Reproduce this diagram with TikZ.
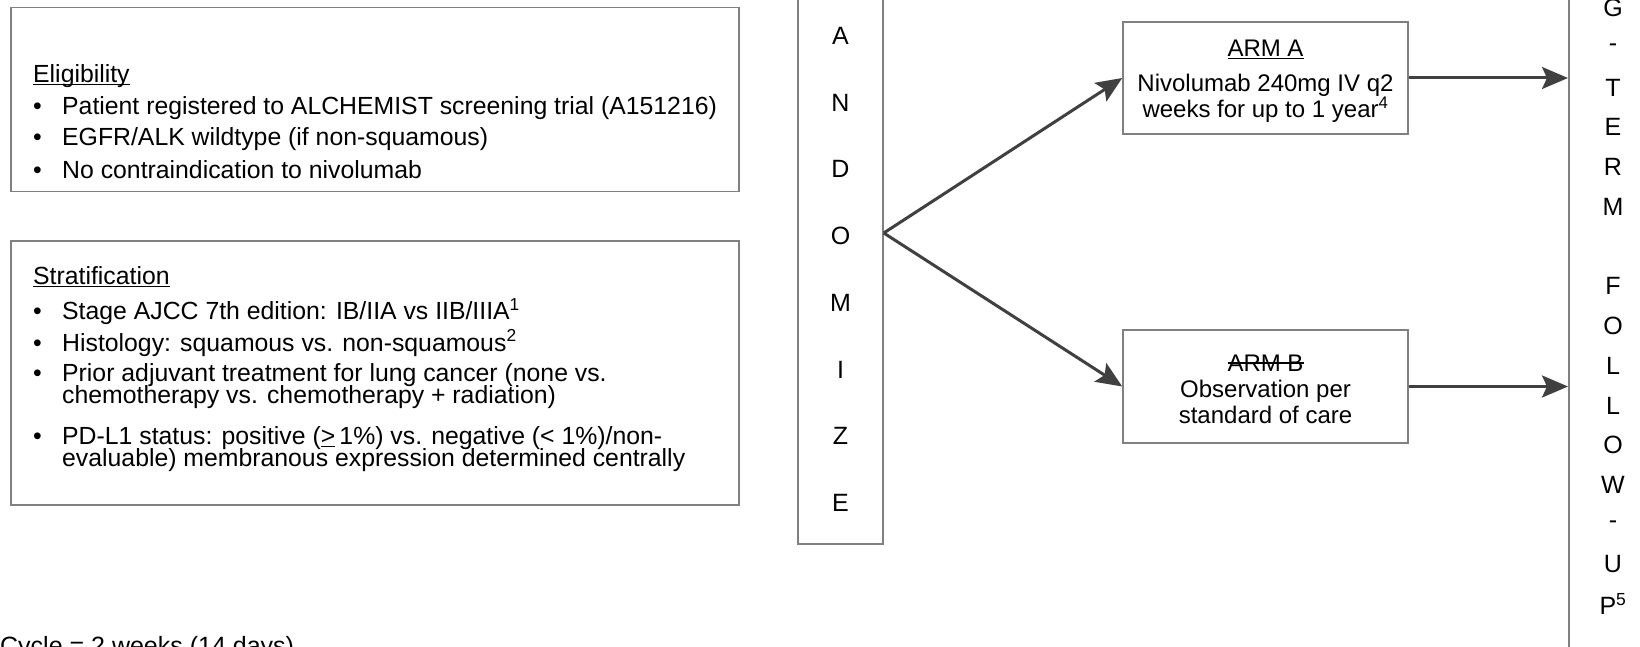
\documentclass[tikz,border=0pt]{standalone}
\usepackage{fontspec}
\setmainfont{Liberation Sans}
\usetikzlibrary{arrows.meta}
\definecolor{boxgray}{HTML}{808080}
\definecolor{arrowgray}{HTML}{404040}
\newcommand{\bul}{\makebox[29pt][l]{\textbullet}}
\newcommand{\ulined}[1]{\setbox0\hbox{#1}\rlap{\rule[-3pt]{\wd0}{1.5pt}}\box0}
\newcommand{\struck}[1]{\setbox0\hbox{#1}\rlap{\rule[0.33em]{\wd0}{1.5pt}}\box0}
\newcommand{\tightlines}{\lineskiplimit=-20pt\relax}

\begin{document}
\begin{tikzpicture}[x=1pt,y=-1pt,
    box/.style={draw=boxgray,line width=1.5pt,inner sep=0pt},
    lefttext/.style={anchor=west,inner sep=0pt,align=left,font=\fontsize{24.8}{22.5}\selectfont\tightlines},
    armtext/.style={inner sep=0pt,align=center,font=\fontsize{24}{26}\selectfont},
    letter/.style={inner sep=0pt,font=\fontsize{25}{25}\selectfont},
    arr/.style={draw=arrowgray,line width=3pt,-{Stealth[length=26pt,width=22pt,inset=5pt]}}]
\useasboundingbox (0,0) rectangle (1640,647);
\clip (0,0) rectangle (1640,647);

\node[box,minimum width=728pt,minimum height=184pt,anchor=north west] (elig) at (10,7) {};
\node[lefttext] (eh) at (33,76) {\ulined{Eligibility}};
\node[lefttext] (e1) at (33,108) {\bul Patient registered to ALCHEMIST screening trial (A151216)};
\node[lefttext] (e2) at (33,139) {\bul EGFR/ALK wildtype (if non-squamous)};
\node[lefttext] (e3) at (33,170) {\bul No contraindication to nivolumab};

\node[box,minimum width=728pt,minimum height=264pt,anchor=north west] (strat) at (10,240) {};
\node[lefttext] (sh) at (33,277) {\ulined{Stratification}};
\node[lefttext] (s1) at (33,312) {\bul Stage AJCC 7th edition: IB/IIA vs IIB/IIIA\textsuperscript{1}};
\node[lefttext] (s2) at (33,343) {\bul Histology: squamous vs. non-squamous\textsuperscript{2}};
\node[lefttext] (s3) at (33,386) {\bul Prior adjuvant treatment for lung cancer (none vs.\\\hspace*{29pt}chemotherapy vs. chemotherapy + radiation)};
\node[lefttext] (s4) at (33,449) {\bul PD-L1 status: positive (\ulined{>}\,1\%) vs. negative (< 1\%)/non-\\\hspace*{29pt}evaluable) membranous expression determined centrally};

\node[box,minimum width=85pt,minimum height=622pt] (rand) at (840.5,233) {};
\foreach \l [count=\i from 0] in {A,N,D,O,M,I,Z,E}
  \node[letter] (r\i) at (840.5,36+66.7*\i) {\l};

\node[box,minimum width=285pt,minimum height=112pt] (armA) at (1265.5,78) {};
\node[armtext] (armAtext) at ([yshift=-3pt]armA.center) {\ulined{ARM A}\\[9pt]Nivolumab 240mg IV q2\\weeks for up to 1 year\textsuperscript{4}};
\node[box,minimum width=285pt,minimum height=113pt] (armB) at (1265.5,386.5) {};
\node[armtext] (armBtext) at ([yshift=-3pt]armB.center) {\struck{ARM B}\\Observation per\\standard of care};

\node[box,minimum width=90pt,minimum height=900pt,anchor=north west] (fu) at (1568,-100) {};
\foreach \l [count=\i from 0] in {G,-,T,E,R,M,{},F,O,L,L,O,W,-,U,P\textsuperscript{5}}
  \node[letter] (f\i) at (1613,8+39.75*\i) {\l};

\draw[arr] (rand.east) -- (armA.west);
\draw[arr] (rand.east) -- (armB.west);
\draw[arr] (armA.east) -- (armA.east -| fu.west);
\draw[arr] (armB.east) -- (armB.east -| fu.west);

\node[anchor=base west,inner sep=0pt,font=\fontsize{25}{25}\selectfont] (cycle) at (0,654) {Cycle = 2 weeks (14 days)};
\end{tikzpicture}
\end{document}
